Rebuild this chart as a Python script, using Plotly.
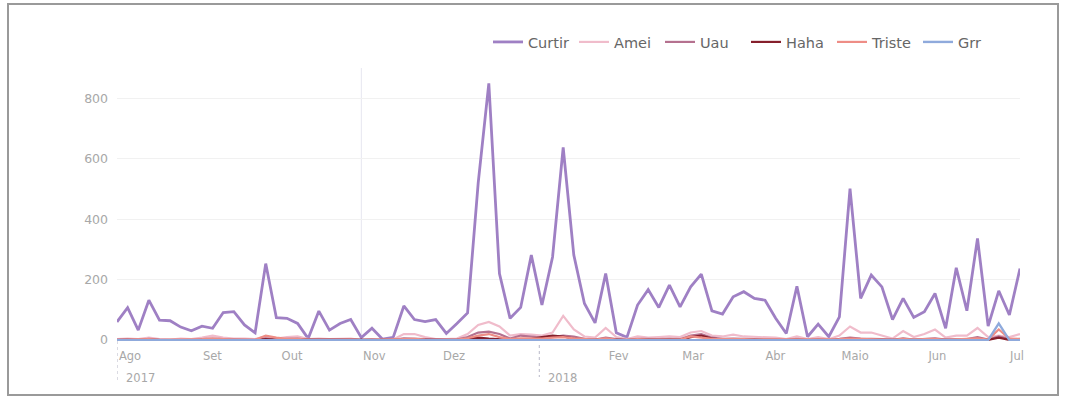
import plotly.graph_objects as go
import pandas as pd

# ---------------- data ----------------
start_date = "2017-08-01"
step = "4D"

curtir = [60, 107, 33, 132, 66, 64, 43, 31, 46, 39, 91, 94, 50, 24, 253, 74, 72, 55, 5, 96,
          33, 55, 68, 8, 39, 3, 9, 113, 68, 61, 68, 22, 55, 90, 520, 849, 220, 72, 108, 281,
          116, 275, 637, 281, 121, 57, 220, 24, 9, 116, 167, 108, 182, 110, 176, 218, 97, 86, 143, 160,
          138, 132, 72, 22, 178, 11, 53, 11, 77, 501, 138, 215, 176, 68, 138, 75, 94, 154, 39, 239,
          97, 336, 46, 163, 83, 237]
amei = [3, 5, 3, 8, 3, 2, 5, 3, 8, 15, 8, 5, 5, 3, 12, 5, 10, 12, 3, 5,
        3, 3, 5, 0, 3, 0, 2, 20, 20, 10, 3, 3, 5, 20, 50, 60, 45, 15, 20, 18,
        15, 25, 80, 35, 12, 8, 40, 10, 3, 12, 8, 10, 12, 10, 25, 30, 15, 12, 18, 12,
        10, 10, 8, 3, 12, 3, 10, 3, 15, 45, 25, 25, 15, 5, 30, 10, 20, 35, 8, 15,
        15, 40, 10, 15, 10, 20]
uau = [2, 3, 1, 4, 2, 1, 2, 1, 3, 5, 3, 2, 2, 1, 6, 2, 4, 5, 1, 2,
       1, 1, 2, 0, 1, 0, 1, 6, 5, 3, 1, 1, 2, 10, 25, 28, 20, 5, 15, 12,
       8, 10, 15, 12, 4, 2, 8, 3, 1, 4, 3, 3, 4, 3, 15, 20, 8, 4, 5, 4,
       3, 3, 2, 1, 4, 1, 3, 1, 4, 8, 5, 5, 3, 1, 6, 2, 4, 6, 2, 3,
       3, 10, 2, 12, 3, 4]
haha = [0, 1, 0, 1, 0, 0, 1, 0, 1, 2, 1, 0, 0, 0, 3, 1, 2, 2, 0, 1,
        0, 0, 1, 0, 0, 0, 0, 2, 2, 1, 0, 0, 1, 3, 8, 5, 3, 1, 3, 3,
        10, 15, 12, 5, 2, 1, 3, 1, 0, 2, 1, 1, 2, 1, 10, 15, 5, 2, 2, 1,
        1, 1, 1, 0, 2, 0, 1, 0, 2, 4, 2, 2, 1, 0, 2, 1, 1, 2, 0, 1,
        1, 3, 1, 8, 1, 1]
triste = [1, 2, 1, 3, 1, 1, 2, 1, 3, 5, 3, 2, 2, 1, 15, 8, 4, 4, 1, 2,
          1, 1, 2, 0, 1, 0, 1, 4, 4, 2, 1, 1, 2, 6, 15, 20, 10, 3, 6, 5,
          5, 8, 10, 6, 3, 2, 6, 2, 1, 3, 2, 2, 3, 2, 12, 8, 4, 3, 4, 3,
          2, 2, 2, 1, 3, 1, 2, 1, 3, 5, 4, 4, 3, 1, 4, 2, 3, 4, 1, 3,
          3, 6, 2, 35, 5, 3]
grr = [0] * 83 + [55, 0, 0]

series_names = ["Curtir", "Amei", "Uau", "Haha", "Triste", "Grr"]

month_ticks = ["2017-08-01", "2017-09-01", "2017-10-01", "2017-11-01", "2017-12-01",
               "2018-02-01", "2018-03-01", "2018-04-01", "2018-05-01", "2018-06-01", "2018-07-01"]
month_labels = ["Ago", "Set", "Out", "Nov", "Dez", "Fev", "Mar", "Abr", "Maio", "Jun", "Jul"]
year_labels = ["2017", "2018"]
year_marks = ["2017-08-01", "2018-01-07"]

# ---------------- styles ----------------
colors = ["#9f80c4", "#f0bccb", "#b5718f", "#861f2c", "#ee8d86", "#8faadc"]
widths = [2.8, 2.2, 2.2, 2.2, 2.2, 2.4]
FONT = "DejaVu Sans, Verdana, sans-serif"

W, H = 1066, 400
L, R, T, B = 117, 46, 68, 59
pw, ph = W - L - R, H - T - B


def px_x(x):
    return (x - L) / pw


def px_y(y):
    return (H - B - y) / ph


dates = pd.date_range(start_date, periods=len(curtir), freq=step)
values = [curtir, amei, uau, haha, triste, grr]

fig = go.Figure()
for name, vals, c, w in zip(series_names, values, colors, widths):
    fig.add_trace(go.Scatter(x=dates, y=vals, mode="lines", name=name,
                             line=dict(color=c, width=w, shape="linear")))

shapes = [
    # vertical guide line
    dict(type="line", xref="x", yref="paper", x0="2017-11-01", x1="2017-11-01", y0=0, y1=1,
         line=dict(color="#e6e6f0", width=1), layer="below"),
    # outer frame
    dict(type="rect", xref="paper", yref="paper", x0=px_x(8), x1=px_x(1058),
         y0=px_y(395), y1=px_y(4), line=dict(color="#9a9a9a", width=2)),
]
annotations = []
for lab, d, ytop, ybot in zip(year_labels, year_marks, [341, 345], [382, 377]):
    shapes.append(dict(type="line", xref="x", yref="paper", x0=d, x1=d,
                       y0=px_y(ytop), y1=px_y(ybot),
                       line=dict(color="#b8b8c8", width=1, dash="dot")))
    annotations.append(dict(text=lab, x=d, xref="x", yref="paper", y=px_y(378),
                            xanchor="left", yanchor="middle", xshift=7, showarrow=False,
                            font=dict(family=FONT, size=11.5, color="#a8a8a8")))

fig.update_layout(
    width=W, height=H,
    margin=dict(l=L, r=R, t=T, b=B),
    paper_bgcolor="white", plot_bgcolor="white",
    font=dict(family=FONT, color="#666"),
    showlegend=True,
    legend=dict(orientation="h", xanchor="left", x=px_x(488), yanchor="middle", y=px_y(42),
                font=dict(family=FONT, size=14.5, color="#666"), itemwidth=30,
                entrywidth=41, entrywidthmode="pixels",
                bgcolor="rgba(0,0,0,0)", traceorder="normal"),
    shapes=shapes,
    annotations=annotations,
    xaxis=dict(type="date", range=[dates[0], dates[-1]], tickvals=month_ticks, ticktext=month_labels,
               showgrid=False, zeroline=False, showline=False, ticks="",
               ticklabelshift=13, ticklabelstandoff=6,
               tickfont=dict(family=FONT, size=11.5, color="#a8a8a8")),
    yaxis=dict(range=[-3, 900], tickvals=[0, 200, 400, 600, 800], showgrid=True,
               gridcolor="#f1f1f1", gridwidth=1, zeroline=False, showline=False, ticks="",
               ticklabelstandoff=8,
               tickfont=dict(family=FONT, size=12.5, color="#a8a8a8")),
)

fig.write_html("out.html", post_script="document.body.style.margin='0';",
               config={"displayModeBar": False})
